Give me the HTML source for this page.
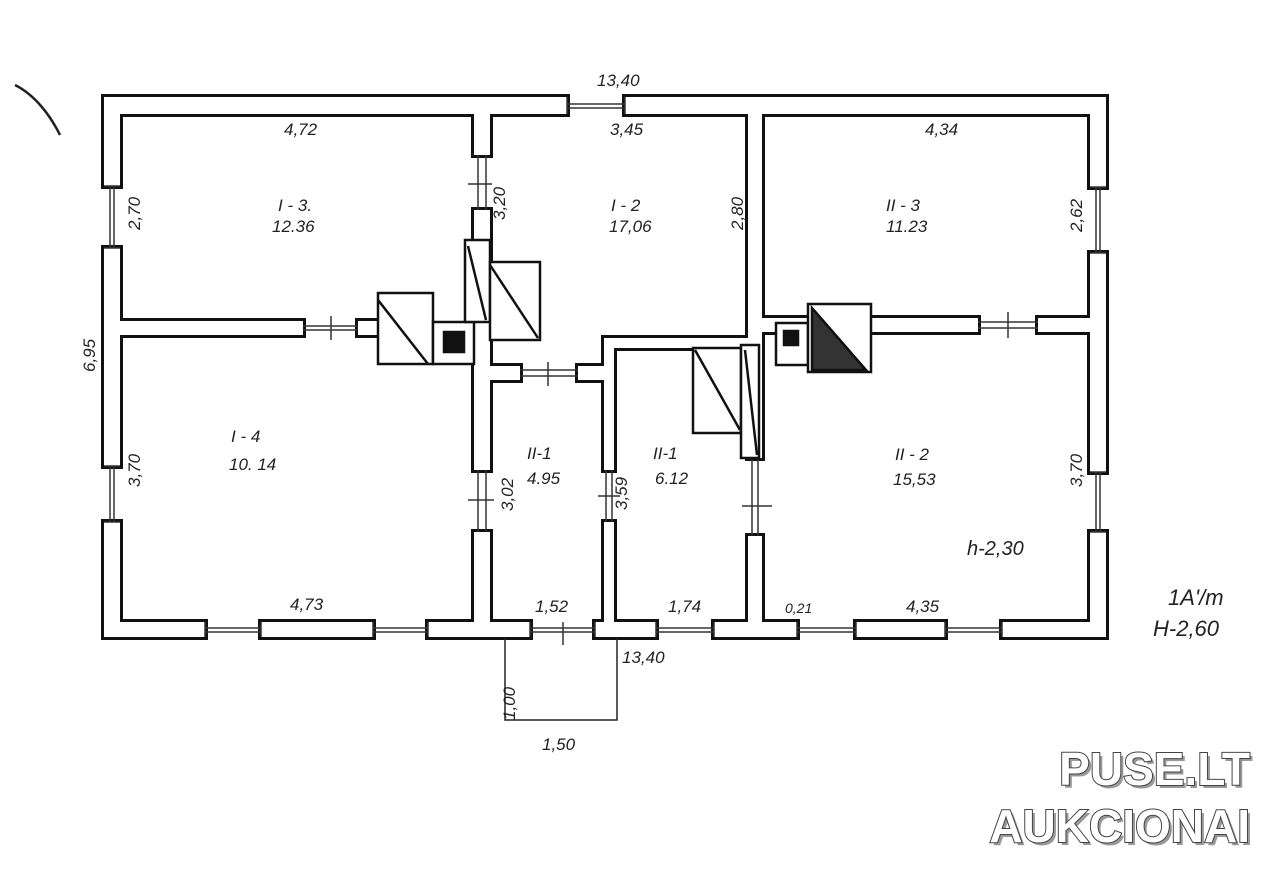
<!DOCTYPE html>
<html><head><meta charset="utf-8"><style>
html,body{margin:0;padding:0;background:#fff;width:1280px;height:870px;overflow:hidden}
svg{display:block}
.t{font-family:"Liberation Sans",sans-serif;font-style:italic;font-size:17px;fill:#222}
</style></head><body>
<svg width="1280" height="870" viewBox="0 0 1280 870" xmlns="http://www.w3.org/2000/svg">
<defs>
<g id="w">
<rect x="104" y="97" width="463" height="17"/>
<rect x="625" y="97" width="481" height="17"/>
<rect x="104" y="97" width="16" height="89"/>
<rect x="104" y="248" width="16" height="218"/>
<rect x="104" y="522" width="16" height="115"/>
<rect x="104" y="622" width="101" height="15"/>
<rect x="261" y="622" width="112" height="15"/>
<rect x="428" y="622" width="102" height="15"/>
<rect x="595" y="622" width="61" height="15"/>
<rect x="714" y="622" width="83" height="15"/>
<rect x="856" y="622" width="89" height="15"/>
<rect x="1002" y="622" width="104" height="15"/>
<rect x="1090" y="97" width="16" height="90"/>
<rect x="1090" y="253" width="16" height="219"/>
<rect x="1090" y="532" width="16" height="105"/>
<rect x="474" y="97" width="16" height="58"/>
<rect x="474" y="210" width="16" height="260"/>
<rect x="474" y="532" width="16" height="100"/>
<rect x="120" y="321" width="183" height="14"/>
<rect x="358" y="321" width="20" height="14"/>
<rect x="474" y="366" width="46" height="14"/>
<rect x="578" y="366" width="36" height="14"/>
<rect x="604" y="338" width="10" height="132"/>
<rect x="604" y="522" width="10" height="110"/>
<rect x="604" y="338" width="158" height="10"/>
<rect x="748" y="97" width="14" height="361"/>
<rect x="748" y="536" width="14" height="96"/>
<rect x="748" y="318" width="230" height="14"/>
<rect x="1038" y="318" width="60" height="14"/>
</g>
</defs>
<use href="#w" fill="#111" stroke="#111" stroke-width="6"/>
<use href="#w" fill="#fff"/>
<g stroke="#333" stroke-width="1.5" fill="none">
<path d="M567 97V114M625 97V114M567 104H625M567 108H625"/>
<path d="M104 186H120M104 248H120M110 186V248M114 186V248"/>
<path d="M104 466H120M104 522H120M110 466V522M114 466V522"/>
<path d="M205 622V637M261 622V637M205 628H261M205 632H261"/>
<path d="M373 622V637M428 622V637M373 628H428M373 632H428"/>
<path d="M530 622V637M595 622V637M530 628H595M530 632H595"/>
<path d="M656 622V637M714 622V637M656 628H714M656 632H714"/>
<path d="M797 622V637M856 622V637M797 628H856M797 632H856"/>
<path d="M945 622V637M1002 622V637M945 628H1002M945 632H1002"/>
<path d="M1090 187H1106M1090 253H1106M1096 187V253M1100 187V253"/>
<path d="M1090 472H1106M1090 532H1106M1096 472V532M1100 472V532"/>
<path d="M303 326H358M303 330H358M331 316V340"/>
<path d="M478 155V210M486 155V210M468 184H492"/>
<path d="M478 470V532M486 470V532M468 500H494"/>
<path d="M520 370H578M520 376H578M548 362V386"/>
<path d="M606 470V522M612 470V522M598 496H620"/>
<path d="M752 458V536M758 458V536M742 506H772"/>
<path d="M978 322H1038M978 328H1038M1008 312V338"/>
<path d="M563 622V645"/>
</g>
<!-- stoves -->
<g stroke="#111" stroke-width="2.5" fill="#fff">
<rect x="378" y="293" width="55" height="71"/>
<path d="M378 300L428 364" fill="none"/>
<rect x="433" y="322" width="41" height="42"/>
<rect x="444" y="332" width="20" height="20" fill="#111"/>
<rect x="465" y="240" width="25" height="82"/>
<path d="M468 246L486 320" fill="none"/>
<rect x="490" y="262" width="50" height="78"/>
<path d="M490 265L538 338" fill="none"/>
<rect x="693" y="348" width="48" height="85"/>
<path d="M695 350L740 430" fill="none"/>
<rect x="741" y="345" width="18" height="113"/>
<path d="M745 350L757 455" fill="none"/>
<rect x="776" y="323" width="32" height="42"/>
<rect x="784" y="331" width="14" height="14" fill="#111"/>
<rect x="808" y="304" width="63" height="68"/>
<polygon points="812,308 812,370 866,370" fill="#333"/>
</g>
<path d="M505 638V720H617V638" stroke="#222" stroke-width="1.5" fill="none"/>
<path d="M15 85C35 95 50 115 60 135" stroke="#222" stroke-width="2.5" fill="none"/>
<g class="t">
<text x="597" y="86">13,40</text>
<text x="284" y="135">4,72</text>
<text x="610" y="135">3,45</text>
<text x="925" y="135">4,34</text>
<text x="278" y="211">I - 3.</text><text x="272" y="232">12.36</text>
<text x="611" y="211">I - 2</text><text x="609" y="232">17,06</text>
<text x="886" y="211">II - 3</text><text x="886" y="232">11.23</text>
<text x="231" y="442">I - 4</text><text x="229" y="470">10. 14</text>
<text x="527" y="459">II-1</text><text x="527" y="484">4.95</text>
<text x="653" y="459">II-1</text><text x="655" y="484">6.12</text>
<text x="895" y="460">II - 2</text><text x="893" y="485">15,53</text>
<text x="967" y="555" style="font-size:20px">h-2,30</text>
<text x="290" y="610">4,73</text>
<text x="535" y="612">1,52</text>
<text x="668" y="612">1,74</text>
<text x="785" y="613" style="font-size:14px">0,21</text>
<text x="906" y="612">4,35</text>
<text x="622" y="663">13,40</text>
<text x="542" y="750">1,50</text>
<text x="1168" y="605" style="font-size:22px">1A'/m</text>
<text x="1153" y="636" style="font-size:22px">H-2,60</text>
</g>
<g class="t">
<text transform="translate(140,230) rotate(-90)">2,70</text>
<text transform="translate(140,487) rotate(-90)">3,70</text>
<text transform="translate(95,372) rotate(-90)">6,95</text>
<text transform="translate(743,230) rotate(-90)">2,80</text>
<text transform="translate(1082,232) rotate(-90)">2,62</text>
<text transform="translate(1082,487) rotate(-90)">3,70</text>
<text transform="translate(513,511) rotate(-90)">3,02</text>
<text transform="translate(627,510) rotate(-90)">3,59</text>
<text transform="translate(515,720) rotate(-90)">1,00</text>
<text transform="translate(505,220) rotate(-90)">3,20</text>
</g>
<g font-family="'Liberation Sans',sans-serif" font-weight="bold" font-size="46" text-anchor="end">
<text x="1253" y="788" fill="#999">PUSE.LT</text>
<text x="1253" y="845" fill="#999">AUKCIONAI</text>
<text x="1250" y="785" fill="#fff" stroke="#444" stroke-width="2" paint-order="stroke">PUSE.LT</text>
<text x="1250" y="842" fill="#fff" stroke="#444" stroke-width="2" paint-order="stroke">AUKCIONAI</text>
</g>
</svg>
</body></html>
